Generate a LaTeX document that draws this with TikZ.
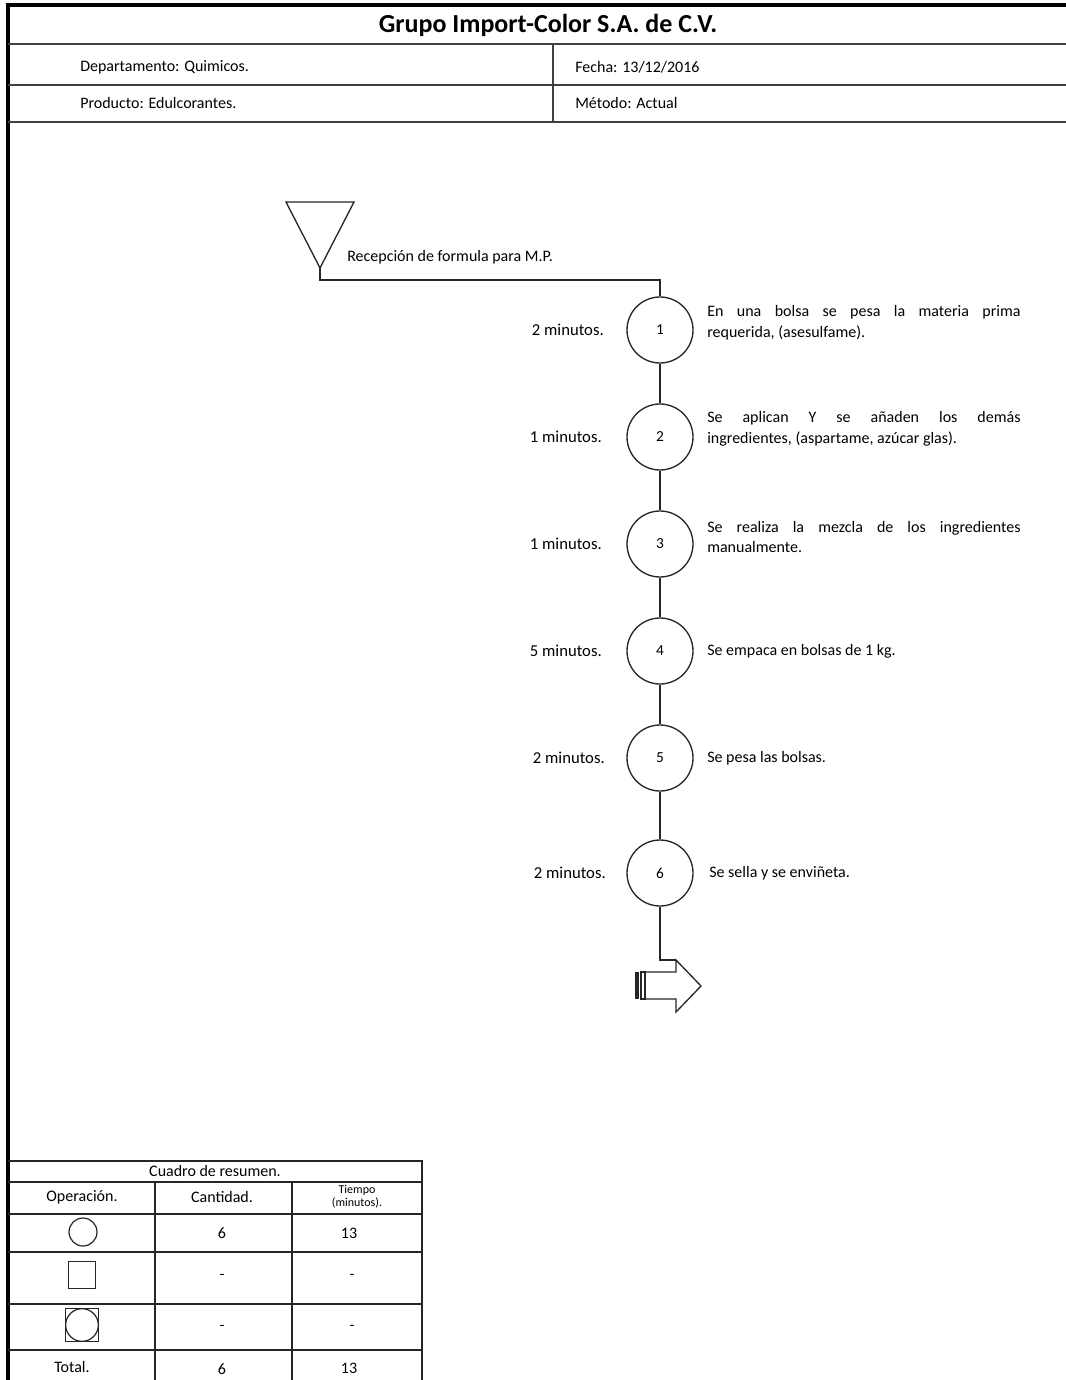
\documentclass[tikz,border=0pt]{standalone}
\usepackage{fontspec}
\setmainfont{Carlito}
\usetikzlibrary{calc}
\tikzset{
  marco/.style={line width=2.6pt, draw=black},
  raya/.style={line width=1.3pt, draw=black!75},
  flujo/.style={line width=1pt, draw=black!85},
  opcirc/.style={circle, draw=black!85, line width=1pt, minimum size=49.5pt, inner sep=0pt, font=\fontsize{11.5}{13}\selectfont},
  tiempo/.style={anchor=east, inner sep=0pt, font=\fontsize{12.5}{14}\selectfont},
  desc/.style={anchor=west, inner sep=0pt, text width=235pt, align=justify, font=\fontsize{12}{15.5}\selectfont},
  encab/.style={anchor=west, inner sep=0pt, font=\fontsize{12}{14}\selectfont},
  celda/.style={inner sep=0pt, font=\fontsize{12}{13}\selectfont},
  tabla/.style={line width=0.9pt, draw=black!85},
}
\begin{document}
\begin{tikzpicture}[x=0.75pt, y=-0.75pt]
  \useasboundingbox (0,0) rectangle (1066,1380);
  % Encabezado
  \draw[marco] (8,1380) -- (8,5) -- (1066,5);
  \draw[raya] (8,44) -- (1066,44);
  \draw[raya] (8,85) -- (1066,85);
  \draw[raya] (8,122) -- (1066,122);
  \draw[raya] (553,44) -- (553,122);
  \node[font=\fontsize{19.5}{22}\selectfont\bfseries] (titulo) at (548,25) {Grupo Import-Color S.A. de C.V.};
  \node[encab] (depto) at (80,67) {Departamento: Quimicos.};
  \node[encab] (fecha) at (575,67) {Fecha: 13/12/2016};
  \node[encab] (prod) at (80,103) {Producto: Edulcorantes.};
  \node[encab] (metodo) at (575,103) {Método: Actual};
  % Almacen inicial
  \draw[flujo] (286,202) -- (354,202) -- (320,268) -- cycle;
  \coordinate (alm) at (320,268);
  \coordinate (codo) at (660,280);
  \node[encab] (recep) at (347,257) {Recepción de formula para M.P.};
  % Operaciones
  \node[opcirc] (op1) at (660,330) {1};
  \node[opcirc] (op2) at (660,437) {2};
  \node[opcirc] (op3) at (660,544) {3};
  \node[opcirc] (op4) at (660,651) {4};
  \node[opcirc] (op5) at (660,758) {5};
  \node[opcirc] (op6) at (660,873) {6};
  \node[tiempo] (t1) at (604,330) {2 minutos.};
  \node[tiempo] (t2) at (602,437) {1 minutos.};
  \node[tiempo] (t3) at (602,544) {1 minutos.};
  \node[tiempo] (t4) at (602,651) {5 minutos.};
  \node[tiempo] (t5) at (605,758) {2 minutos.};
  \node[tiempo] (t6) at (606,873) {2 minutos.};
  \node[desc] (d1) at (707,323) {En una bolsa se pesa la materia prima\linebreak requerida, (asesulfame).};
  \node[desc] (d2) at (707,429) {Se aplican Y se añaden los demás\linebreak ingredientes, (aspartame, azúcar glas).};
  \node[desc] (d3) at (707,537) {Se realiza la mezcla de los ingredientes\linebreak manualmente.};
  \node[encab] (d4) at (707,651) {Se empaca en bolsas de 1 kg.};
  \node[encab] (d5) at (707,758) {Se pesa las bolsas.};
  \node[encab] (d6) at (709,873) {Se sella y se enviñeta.};
  \draw[flujo] (alm) |- (codo) -- (op1);
  \foreach \a/\b in {op1/op2,op2/op3,op3/op4,op4/op5,op5/op6}
    \draw[flujo] (\a) -- (\b);
  % Flecha de salida
  \coordinate (fin) at (676,960);
  \draw[flujo] (op6) |- (fin);
  \draw[flujo] (fin) -- (701,986) -- (676,1012) -- (676,999) -- (645,999)
    -- (645,972) -- (676,972) -- cycle;
  \fill[black!85] (635,972) rectangle (639,999);
  \draw[flujo] (641,972) rectangle (645,999);
  % Cuadro de resumen
  \draw[tabla] (8,1161) -- (422,1161) -- (422,1380);
  \foreach \y in {1182,1214,1252,1304,1350}
    \draw[tabla] (8,\y) -- (422,\y);
  \draw[tabla] (155,1182) -- (155,1380);
  \draw[tabla] (292,1182) -- (292,1380);
  \node[celda] (cuadro) at (215,1171) {Cuadro de resumen.};
  \node[celda] (hop) at (82,1197) {Operación.};
  \node[celda] (hcant) at (222,1197) {Cantidad.};
  \node[celda, font=\fontsize{9}{9.5}\selectfont, align=center] (htiempo) at (357,1197) {Tiempo\\(minutos).};
  \node[circle, draw=black!85, line width=0.9pt, minimum size=21pt, inner sep=0pt] (sopera) at (83,1232) {};
  \node[draw=black!85, line width=0.9pt, minimum size=20pt, inner sep=0pt] (sinsp) at (82,1275) {};
  \node[draw=black!85, line width=0.9pt, minimum size=24.5pt, inner sep=0pt] (scomb) at (82,1325) {};
  \node[circle, draw=black!85, line width=0.9pt, minimum size=24.5pt, inner sep=0pt] (scombc) at (82,1325) {};
  \node[celda] (c1) at (222,1233) {6};
  \node[celda] (m1) at (349,1233) {13};
  \node[celda] (c2) at (222,1277) {-};
  \node[celda] (m2) at (352,1277) {-};
  \node[celda] (c3) at (222,1328) {-};
  \node[celda] (m3) at (352,1328) {-};
  \node[celda] (tot) at (72,1367) {Total.};
  \node[celda] (ctot) at (222,1369) {6};
  \node[celda] (mtot) at (349,1368) {13};
\end{tikzpicture}
\end{document}
